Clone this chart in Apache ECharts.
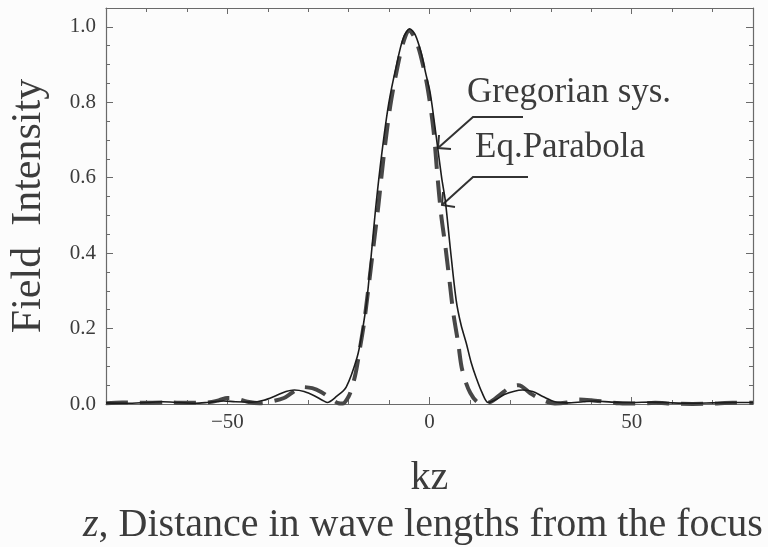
<!DOCTYPE html>
<html>
<head>
<meta charset="utf-8">
<script src="https://cdn.jsdelivr.net/npm/echarts@6/dist/echarts.min.js"></script>
<style>
html,body{margin:0;padding:0;background:#fcfcfc;}
#main{width:768px;height:547px;}
</style>
</head>
<body>
<div id="main"></div>
<script>
// Gregorian sys. (solid) — [kz, intensity]
var gregorian = [
  [-80,0.003],[-75,0.002],[-70,0.004],[-66,0.006],[-62,0.004],[-58,0.002],[-55,0.004],
  [-51,0.008],[-48,0.006],[-44,0.005],[-41,0.010],[-38,0.022],[-35.5,0.033],[-33.4,0.037],
  [-31,0.033],[-28.5,0.022],[-26.5,0.010],[-25.3,0.004],[-23,0.020],[-20.6,0.045],
  [-17.9,0.124],[-16.7,0.188],[-15.5,0.275],[-14.3,0.407],[-13.3,0.521],[-11.8,0.664],
  [-10.1,0.796],[-8.1,0.902],[-6.5,0.970],[-4.9,0.995],[-3.5,0.978],[-2.0,0.929],
  [-1,0.880],[0.2,0.823],[1.7,0.706],[3.0,0.600],[3.9,0.540],[5.2,0.407],[6.6,0.275],
  [7.8,0.210],[9.1,0.161],[10.3,0.110],[11.5,0.071],[13,0.030],[14.5,0.004],[16.5,0.012],
  [18.5,0.025],[21,0.034],[23,0.037],[25.5,0.033],[28,0.020],[31,0.006],[34,0.003],
  [38,0.006],[41,0.008],[45,0.005],[50,0.004],[55,0.005],[60,0.003],[65,0.002],
  [70,0.003],[75,0.004],[80,0.004]
];
// Eq.Parabola (dashed)
var parabola = [
  [-80,0.002],[-76,0.004],[-72,0.003],[-65,0.004],[-60,0.003],[-55,0.004],[-52,0.010],
  [-50,0.016],[-48,0.015],[-45,0.006],[-42,0.002],[-39,0.007],[-36,0.016],[-34,0.030],
  [-31.5,0.045],[-29,0.042],[-26.8,0.032],[-24.5,0.015],[-22.5,0.002],[-21.5,0.001],
  [-20,0.020],[-19,0.050],[-18.2,0.085],[-17.2,0.148],[-16.2,0.214],[-15.3,0.290],
  [-14.4,0.370],[-13.5,0.450],[-12.6,0.530],[-11.4,0.650],[-9.7,0.790],[-7.8,0.900],
  [-6.3,0.965],[-5,0.990],[-3.6,0.970],[-2.2,0.925],[-0.5,0.840],[1,0.725],[2,0.600],
  [2.9,0.500],[3.9,0.420],[4.8,0.340],[5.9,0.240],[7.1,0.161],[8.1,0.090],[10.1,0.029],
  [12.5,0.002],[15,0.005],[17.5,0.025],[20,0.045],[22,0.050],[25,0.028],[28,0.010],
  [31,0.001],[34,0.004],[37,0.012],[40,0.010],[43.5,0.006],[47,0.002],[51,0.001],
  [55.8,0.003],[60,0.001],[65,0.000],[70,0.001],[75,0.003],[80,0.003]
];
var xMajorTicks = [-50, 0, 50];
var xMinorTicks = [-70,-60,-40,-30,-20,-10,10,20,30,40,60,70];

var serif = '"Liberation Serif","DejaVu Serif",serif';
var frame = '#6a6a6a';
var txt = '#3c3c3c';

function fmtX(v){ return v < 0 ? '\u2212' + Math.abs(v) : String(v); }

var chart = echarts.init(document.getElementById('main'));

function xAx(pos, ticks, len, labels, line){
  return {
    type:'value', position:pos, min:-80, max:80,
    name: labels ? 'kz' : '',
    nameLocation:'middle', nameGap:54,
    nameTextStyle:{fontFamily:serif, fontSize:40, color:txt},
    axisLine:{show:line, onZero:false, lineStyle:{color:frame, width:1.2}},
    axisTick:{show:true, inside:true, length:len, customValues:ticks, lineStyle:{color:frame}},
    axisLabel:{show:labels, customValues:xMajorTicks, formatter:fmtX, margin:8,
      fontFamily:serif, fontSize:21, color:txt},
    splitLine:{show:false}
  };
}
function yAx(pos, labels){
  return {
    type:'value', position:pos, min:0, max:1.05, interval:0.2,
    name: labels ? 'Field  Intensity' : '',
    nameLocation:'middle', nameGap:56,
    nameTextStyle:{fontFamily:serif, fontSize:42, color:txt},
    axisLine:{show:true, onZero:false, lineStyle:{color:frame, width:1.2}},
    axisTick:{show:true, inside:true, length:7, lineStyle:{color:frame}},
    minorTick:{show:true, splitNumber:4, length:4, lineStyle:{color:frame}},
    axisLabel:{show:labels, margin:10, formatter:function(v){return v.toFixed(1);},
      fontFamily:serif, fontSize:21, color:txt},
    splitLine:{show:false}, minorSplitLine:{show:false}
  };
}

var option = {
  backgroundColor:'#fcfcfc',
  animation:false,
  title:{
    text:'{i|z}, Distance in wave lengths from the focus',
    left:78, top:500,
    textStyle:{fontFamily:serif, fontSize:40, fontWeight:'normal', color:txt,
      rich:{i:{fontFamily:serif, fontSize:40, fontStyle:'italic', color:txt}}}
  },
  grid:{left:102, right:15, top:8, bottom:143},
  xAxis:[
    xAx('bottom', xMajorTicks, 7, true, true),
    xAx('bottom', xMinorTicks, 4, false, false),
    xAx('top', xMajorTicks, 6, false, true),
    xAx('top', xMinorTicks, 4, false, false)
  ],
  yAxis:[ yAx('left', true), yAx('right', false) ],
  series:[
    {name:'Eq.Parabola', type:'line', data:parabola, showSymbol:false, smooth:0.3,
      lineStyle:{color:'#474747', width:4, type:[22,12]}, z:2},
    {name:'Gregorian sys.', type:'line', data:gregorian, showSymbol:false, smooth:0.3,
      lineStyle:{color:'#1c1c1c', width:1.6}, z:3}
  ],
  graphic:[
    {type:'text', x:467, y:93, style:{text:'Gregorian sys.', font:'35px ' + serif, fill:txt, verticalAlign:'middle'}},
    {type:'text', x:475, y:148, style:{text:'Eq.Parabola', font:'35px ' + serif, fill:txt, verticalAlign:'middle'}},
    {type:'polyline', shape:{points:[[523,117],[473,117],[438,148]]}, style:{stroke:'#333', lineWidth:2, fill:null}},
    {type:'polyline', shape:{points:[[439,135],[438,148],[451,149]]}, style:{stroke:'#333', lineWidth:2, fill:null}},
    {type:'polyline', shape:{points:[[528,177],[473,177],[442,205]]}, style:{stroke:'#333', lineWidth:2, fill:null}},
    {type:'polyline', shape:{points:[[443,192],[442,205],[455,207]]}, style:{stroke:'#333', lineWidth:2, fill:null}}
  ]
};
chart.setOption(option);
</script>
</body>
</html>
